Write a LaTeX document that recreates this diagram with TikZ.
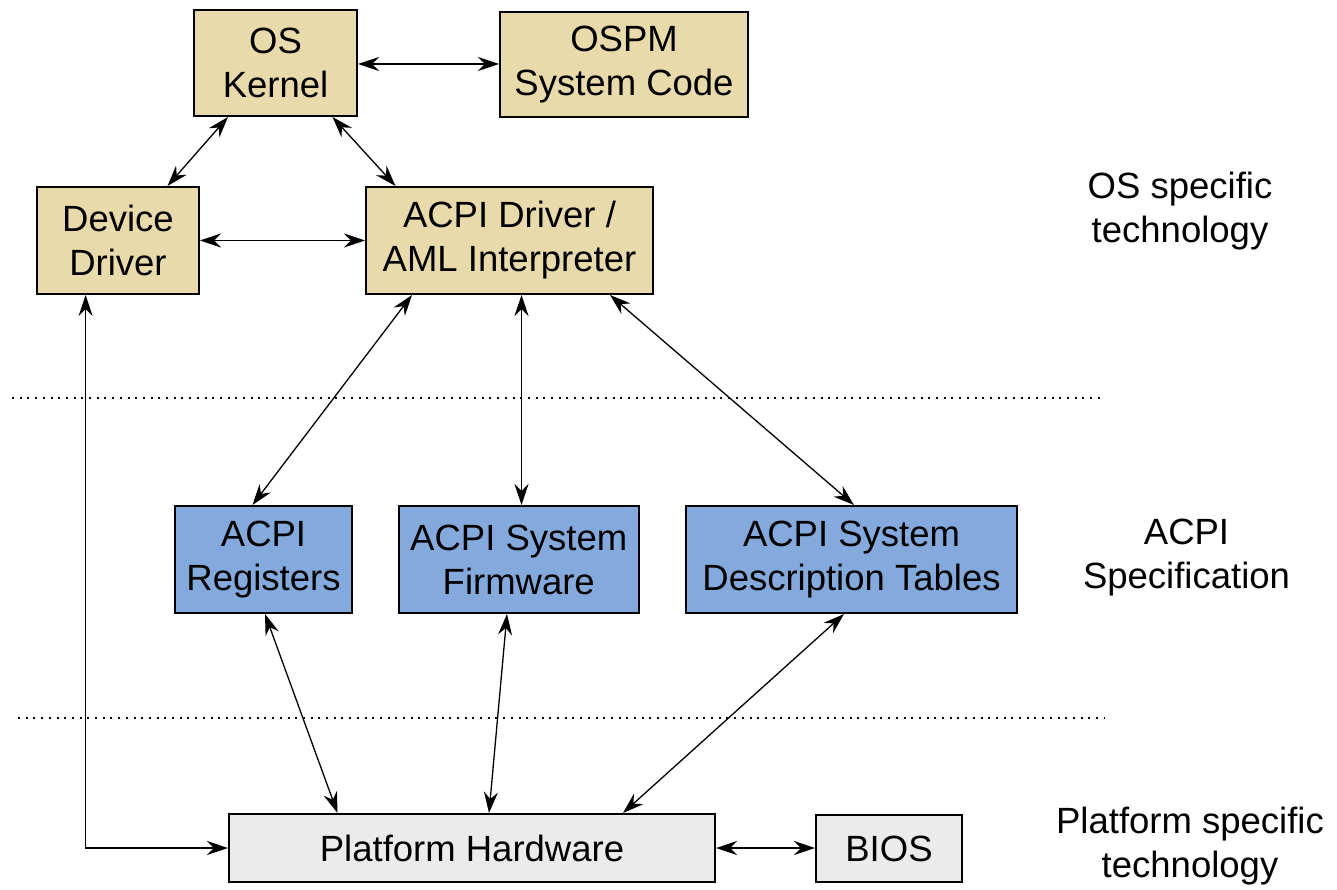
\documentclass[tikz,border=0pt]{standalone}
\usepackage{fontspec}
\setmainfont{Liberation Sans}
\usetikzlibrary{arrows.meta,calc}
\definecolor{tanfill}{RGB}{233,218,172}
\definecolor{bluefill}{RGB}{132,170,221}
\definecolor{grayfill}{RGB}{235,235,235}
\begin{document}
\begin{tikzpicture}[x=1pt,y=-1pt,
  box/.style={draw=black,line width=2pt,inner sep=0pt,align=center,
    font=\fontsize{36.5}{44}\selectfont},
  tanbox/.style={box,fill=tanfill},
  bluebox/.style={box,fill=bluefill},
  graybox/.style={box,fill=grayfill},
  lbl/.style={align=center,inner sep=0pt,font=\fontsize{36.5}{44}\selectfont},
  conn/.style={line width=1.3pt,{Stealth[length=21pt,width=14pt,inset=7pt]}-{Stealth[length=21pt,width=14pt,inset=7pt]}},
  sep/.style={line width=2pt,dash pattern=on 2pt off 5.7pt}
]
\useasboundingbox (0,0) rectangle (1337,890);
\fill[white] (0,0) rectangle (1337,890);

\node[tanbox,minimum width=163pt,minimum height=106pt] (kern) at (275.5,63) {OS\\Kernel};
\node[tanbox,minimum width=248pt,minimum height=105pt] (ospm) at (624,64.5) {OSPM\\System Code};
\node[tanbox,minimum width=162pt,minimum height=107pt] (dev) at (118,240.5) {Device\\Driver};
\node[tanbox,minimum width=287pt,minimum height=107pt] (acpi) at (509.5,240.5) {ACPI Driver /\\AML Interpreter};
\node[bluebox,minimum width=177pt,minimum height=107pt] (reg) at (263.5,559.5) {ACPI\\Registers};
\node[bluebox,minimum width=240pt,minimum height=107pt] (fw) at (518.75,559.5) {ACPI System\\Firmware};
\node[bluebox,minimum width=331pt,minimum height=107pt] (tab) at (851.5,559.5) {ACPI System\\Description Tables};
\node[graybox,minimum width=486pt,minimum height=68pt] (plat) at (472,848) {Platform Hardware};
\node[graybox,minimum width=146pt,minimum height=67pt] (bios) at (889,848.5) {BIOS};

\node[lbl] (l1) at (1180,211) {OS specific\\technology};
\node[lbl] (l2) at (1186.5,558) {ACPI\\Specification};
\node[lbl] (l3) at (1190,846) {Platform specific\\technology};

\draw[sep] (12,397.5) -- (1103,397.5);
\draw[sep] (18,718) -- (1105,718);

\draw[conn] ([yshift=-1pt]kern.east) -- ([yshift=-1pt]kern.east -| ospm.west);
\draw[conn] ([xshift=-47.5pt]kern.south) -- ([xshift=49.5pt]dev.north);
\draw[conn] ([xshift=57pt]kern.south) -- ([xshift=-114pt]acpi.north);
\draw[conn] (dev.east) -- (acpi.west);
\draw[conn] ([xshift=-97.5pt]acpi.south) -- ([xshift=-11pt]reg.north);
\draw[conn] ([xshift=12pt]acpi.south) -- ([xshift=12pt]acpi.south |- fw.north);
\draw[conn] ([xshift=100.5pt]acpi.south) -- ([xshift=2.5pt]tab.north);
\draw[conn] ([xshift=1.5pt]reg.south) -- ([xshift=-134.5pt]plat.north);
\draw[conn] ([xshift=-11.75pt]fw.south) -- ([xshift=17pt]plat.north);
\draw[conn] ([xshift=-7.5pt]tab.south) -- ([xshift=151pt]plat.north);
\draw[conn] ([xshift=-32.4pt]dev.south) |- (plat.west);
\draw[conn] (plat.east) -- (bios.west |- plat.east);
\end{tikzpicture}
\end{document}
